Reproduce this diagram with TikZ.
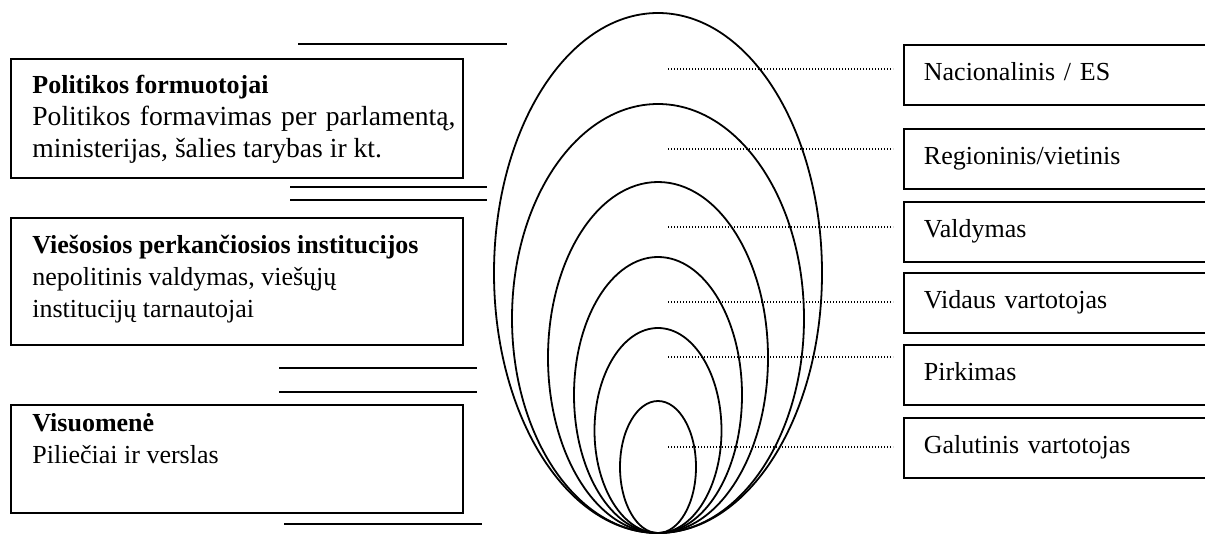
\documentclass[tikz,border=0pt]{standalone}
\usepackage{fontspec}
\setmainfont{Liberation Serif}
\usetikzlibrary{positioning}
\begin{document}
\begin{tikzpicture}[x=0.5pt, y=-0.5pt,
  lbox/.style={draw, line width=0.9pt, anchor=north west, minimum width=226pt, inner sep=0pt},
  ltext/.style={anchor=north west, inner sep=0pt, align=left, font=\fontsize{13}{16}\selectfont},
  rbox/.style={draw, line width=0.9pt, anchor=north west, minimum height=30pt, text width=136pt,
    inner xsep=10pt, inner ysep=0pt, align=left, text height=9pt, text depth=3pt,
    font=\fontsize{13}{16}\selectfont},
  ring/.style={line width=0.9pt},
  bar/.style={line width=0.9pt},
  dots/.style={line width=0.8pt, dash pattern=on 0.7pt off 0.8pt, shorten >=5pt}
]
  \clip (0,0) rectangle (1205,535);

  \node[lbox, minimum height=59.5pt] (pf) at (10,58) {};
  \node[lbox, minimum height=63.5pt] (vpi) at (10,217) {};
  \node[lbox, minimum height=54pt] (vis) at (10,404) {};
  \node[ltext, below right=8.5pt and 11pt of pf.north west] (pftxt)
    {\textbf{Politikos formuotojai}\\\fontsize{13.8}{16}\selectfont\makebox[211.5pt][s]{Politikos formavimas per parlamentą,}\\\fontsize{13.8}{16}\selectfont ministerijas, šalies tarybas ir kt.};
  \node[ltext, below right=8.7pt and 11pt of vpi.north west] (vpitxt)
    {\textbf{Viešosios perkančiosios institucijos}\\nepolitinis valdymas, viešųjų\\institucijų tarnautojai};
  \node[ltext, below right=4.5pt and 11pt of vis.north west] (vistxt)
    {\textbf{Visuomenė}\\Piliečiai ir verslas};

  \draw[bar] (298,44) -- (507,44);
  \draw[bar] (290,187) -- (487,187);
  \draw[bar] (290,200) -- (487,200);
  \draw[bar] (279,368) -- (477,368);
  \draw[bar] (279,392) -- (477,392);
  \draw[bar] (284,524) -- (482,524);

  \foreach \rx/\ry in {164/260, 146/214.5, 110/175.5, 84/138, 63.5/102.5, 38/66}
    \draw[ring] (658,533) ++(0,-\ry) ellipse [x radius={0.5pt*\rx}, y radius={0.5pt*\ry}];

  \node[rbox] (nac) at (903,44) {Nacionalinis / ES};
  \node[rbox] (reg) at (903,128) {Regioninis/vietinis};
  \node[rbox] (val) at (903,201) {Valdymas};
  \node[rbox] (vid) at (903,272) {Vidaus vartotojas};
  \node[rbox] (pir) at (903,344) {Pirkimas};
  \node[rbox] (gal) at (903,417) {Galutinis vartotojas};

  \coordinate (d1) at (668,69);
  \coordinate (d2) at (668,149);
  \coordinate (d3) at (668,227);
  \coordinate (d4) at (668,302);
  \coordinate (d5) at (668,357);
  \coordinate (d6) at (668,447);
  \draw[dots] (d1) -- (d1 -| nac.west);
  \draw[dots] (d2) -- (d2 -| reg.west);
  \draw[dots] (d3) -- (d3 -| val.west);
  \draw[dots] (d4) -- (d4 -| vid.west);
  \draw[dots] (d5) -- (d5 -| pir.west);
  \draw[dots] (d6) -- (d6 -| gal.west);
\end{tikzpicture}
\end{document}
